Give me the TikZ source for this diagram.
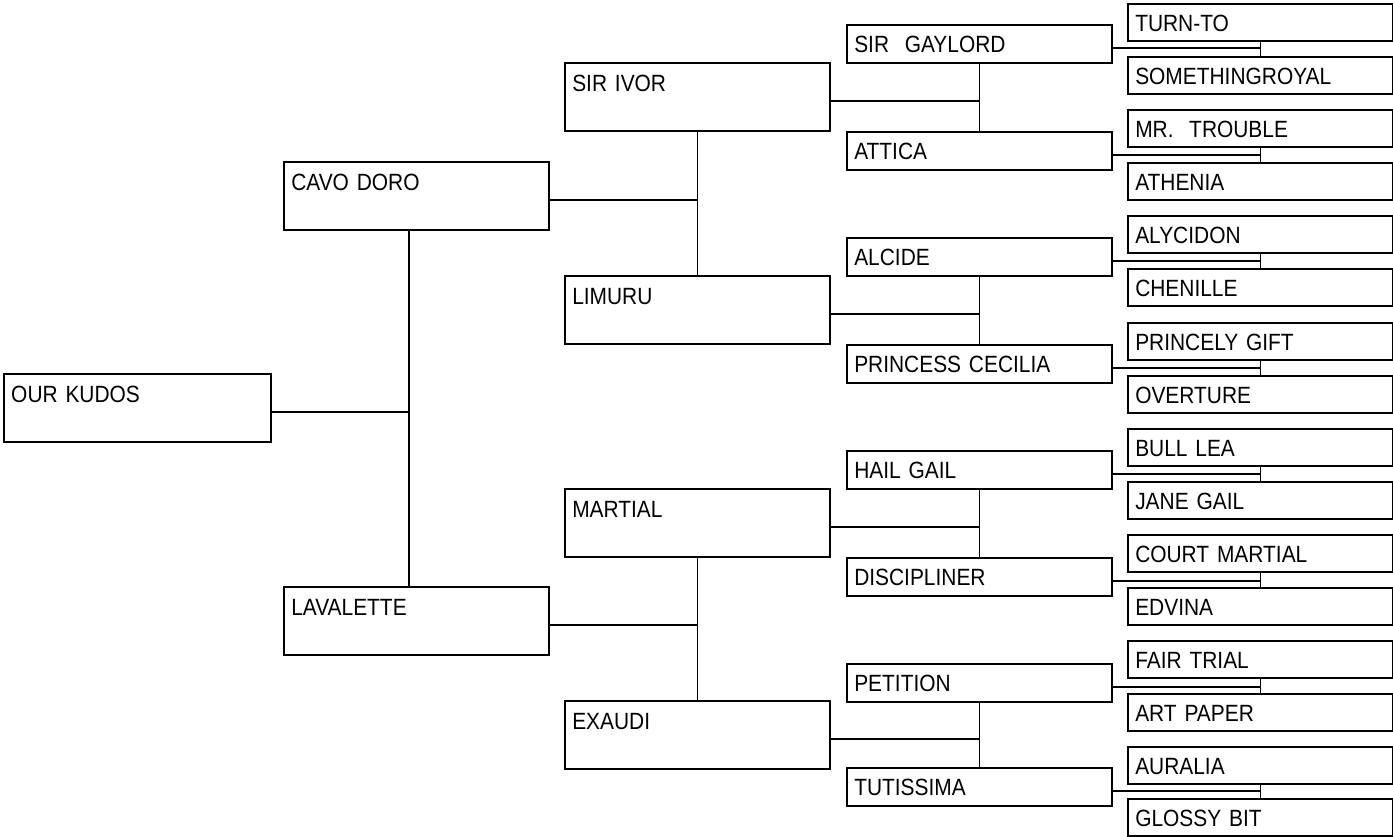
\documentclass[tikz,border=0pt]{standalone}
\usepackage{fontspec}
\setmainfont{Liberation Sans}[FakeStretch=0.89]
\usetikzlibrary{calc}
\tikzset{
  pbox/.style={draw=black, line width=1.5pt, rectangle, anchor=north west,
    inner xsep=7.5pt, inner ysep=0pt, align=left,
    font=\fontsize{23.5}{28}\selectfont, text=black},
  bigbox/.style={pbox, minimum width=265pt, text width=250pt, text height=29pt, text depth=39pt},
  smallbox/.style={pbox, minimum width=265pt, text width=250pt, text height=28pt, text depth=10pt},
  tinybox/.style={pbox, minimum width=265pt, text width=250pt, text height=28pt, text depth=9pt},
  conn/.style={draw=black, line width=1.5pt}
}
\begin{document}
\begin{tikzpicture}[x=1pt,y=-1pt]
\useasboundingbox (0,0) rectangle (1393,836);
% generation 0
\node[bigbox, minimum width=267pt, text width=252pt] (g0) at (3,373) {OUR KUDOS};
% generation 1
\node[bigbox] (a1) at (283,161) {CAVO DORO};
\node[bigbox] (a2) at (283,586) {LAVALETTE};
% generation 2
\node[bigbox] (b1) at (564,62) {SIR IVOR};
\node[bigbox] (b2) at (564,275) {LIMURU};
\node[bigbox] (b3) at (564,488) {MARTIAL};
\node[bigbox] (b4) at (564,700) {EXAUDI};
% generation 3
\node[smallbox] (c1) at (846,24) {SIR\ \ GAYLORD};
\node[smallbox] (c2) at (846,131) {ATTICA};
\node[smallbox] (c3) at (846,237) {ALCIDE};
\node[smallbox] (c4) at (846,344) {PRINCESS CECILIA};
\node[smallbox] (c5) at (846,450) {HAIL GAIL};
\node[smallbox] (c6) at (846,557) {DISCIPLINER};
\node[smallbox] (c7) at (846,663) {PETITION};
\node[smallbox] (c8) at (846,767) {TUTISSIMA};
% generation 4
\node[tinybox] (d1) at (1127,3) {TURN-TO};
\node[tinybox] (d2) at (1127,56) {SOMETHINGROYAL};
\node[tinybox] (d3) at (1127,109) {MR.\ \ TROUBLE};
\node[tinybox] (d4) at (1127,162) {ATHENIA};
\node[tinybox] (d5) at (1127,215) {ALYCIDON};
\node[tinybox] (d6) at (1127,268) {CHENILLE};
\node[tinybox] (d7) at (1127,322) {PRINCELY GIFT};
\node[tinybox] (d8) at (1127,375) {OVERTURE};
\node[tinybox] (d9) at (1127,428) {BULL LEA};
\node[tinybox] (d10) at (1127,481) {JANE GAIL};
\node[tinybox] (d11) at (1127,534) {COURT MARTIAL};
\node[tinybox] (d12) at (1127,587) {EDVINA};
\node[tinybox] (d13) at (1127,640) {FAIR TRIAL};
\node[tinybox] (d14) at (1127,693) {ART PAPER};
\node[tinybox] (d15) at (1127,746) {AURALIA};
\node[tinybox] (d16) at (1127,798) {GLOSSY BIT};
% connectors gen0 -> gen1
\coordinate (j0a) at ([xshift=-7.5pt]a1.south);
\coordinate (j0b) at ([xshift=-7.5pt]a2.north);
\draw[conn] (j0a) -- (j0b);
\draw[conn] ([yshift=-4pt]g0.east) -- ([yshift=-4pt]g0.east -| j0a);
% gen1 -> gen2
\foreach \p/\u/\l in {a1/b1/b2, a2/b3/b4}{
  \draw[conn] (\u.south) -- (\l.north);
  \draw[conn] ([yshift=-4pt]\p.east) -- ([yshift=-4pt]\p.east -| \u.south);
}
% gen2 -> gen3
\foreach \p/\u/\l in {b1/c1/c2, b2/c3/c4, b3/c5/c6, b4/c7/c8}{
  \draw[conn] (\u.south) -- (\l.north);
  \draw[conn] ([yshift=-4pt]\p.east) -- ([yshift=-4pt]\p.east -| \u.south);
}
% gen3 -> gen4
\foreach \p/\u/\l in {c1/d1/d2, c2/d3/d4, c3/d5/d6, c4/d7/d8, c5/d9/d10, c6/d11/d12, c7/d13/d14, c8/d15/d16}{
  \draw[conn] (\u.south) -- (\l.north);
  \draw[conn] ([yshift=-4pt]\p.east) -- ([yshift=-4pt]\p.east -| \u.south);
}
\end{tikzpicture}
\end{document}
